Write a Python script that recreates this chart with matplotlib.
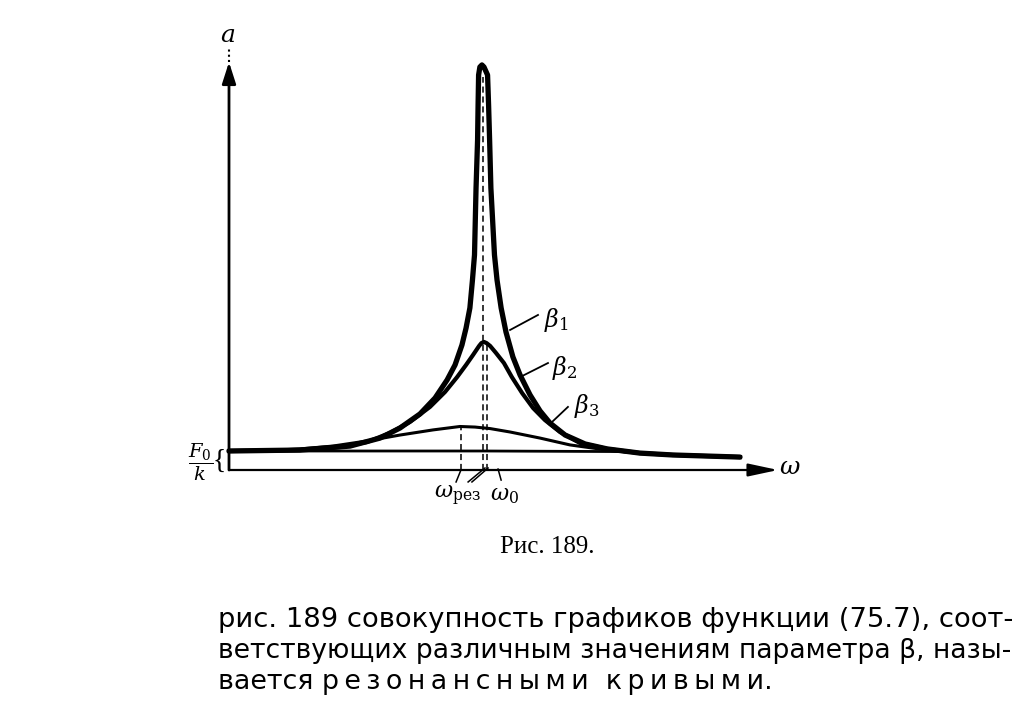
import numpy as np
import matplotlib
matplotlib.use("Agg")
import matplotlib.pyplot as plt

# Резонансные кривые (рис. 189)
# omega в единицах omega_0, a в единицах F0/k

beta1_w = [0.0, 0.277, 0.473, 0.590, 0.668, 0.746, 0.805, 0.852, 0.883, 0.910,
           0.926, 0.941, 0.951, 0.959, 0.965, 0.971, 0.973, 0.975, 0.980, 0.988,
           0.996, 1.010, 1.014, 1.018, 1.023, 1.037, 1.047, 1.063, 1.082, 1.109,
           1.137, 1.176, 1.215, 1.254, 1.313, 1.391, 1.477, 1.605, 1.734, 1.996]
beta1_a = [1.00, 1.05, 1.26, 1.68, 2.21, 2.95, 3.79, 4.74, 5.53, 6.58,
           7.47, 8.53, 10.0, 11.32, 14.84, 17.37, 19.21, 20.79, 21.21, 21.32,
           21.21, 20.79, 19.21, 17.37, 14.84, 11.32, 10.0, 8.53, 7.26, 5.95,
           5.00, 3.95, 3.11, 2.47, 1.84, 1.37, 1.11, 0.89, 0.79, 0.68]

beta2_w = [0.0, 0.277, 0.434, 0.539, 0.629, 0.707, 0.785, 0.844, 0.891, 0.926,
           0.953, 0.977, 0.986, 0.996, 1.006, 1.020, 1.043, 1.074, 1.105, 1.145,
           1.188, 1.234, 1.293, 1.371, 1.477, 1.605, 1.734, 1.996]
beta2_a = [1.00, 1.05, 1.21, 1.47, 1.95, 2.53, 3.32, 4.11, 4.89, 5.53,
           6.05, 6.53, 6.68, 6.74, 6.68, 6.53, 6.16, 5.63, 4.89, 4.05,
           3.26, 2.63, 2.00, 1.42, 1.11, 0.89, 0.79, 0.68]

beta3_w = [0.0, 0.160, 0.277, 0.406, 0.539, 0.668, 0.797, 0.902, 0.961, 1.020,
           1.098, 1.215, 1.332, 1.477, 1.605, 1.734, 1.996]
beta3_a = [1.00, 1.03, 1.11, 1.26, 1.53, 1.84, 2.11, 2.29, 2.26, 2.18,
           2.00, 1.68, 1.32, 1.05, 0.89, 0.79, 0.68]

flat_w = [0.0, 1.0, 1.527, 1.605]
flat_a = [1.00, 1.00, 0.97, 0.89]

w_res = 0.906      # omega_рез для beta3
w_res1 = 0.992     # пунктир к вершине beta1
w_0 = 1.008        # пунктир к вершине beta2

caption = "Рис. 189."
sp = "\u2009"
body_lines = [
    "рис. 189 совокупность графиков функции (75.7), соот-",
    "ветствующих различным значениям параметра β, назы-",
    "вается " + sp.join("резонансными") + "  " + sp.join("кривыми") + ".",
]
body_sizes = [19.7, 19.2, 19.4]

plt.rcParams['mathtext.fontset'] = 'dejavuserif'

fig = plt.figure(figsize=(10.36, 7.22), dpi=100)
ax = fig.add_axes([0, 0, 1, 1])
# масштаб: 256 px на omega_0, 19 px на F0/k, начало в (229, 470) px
ax.set_xlim(-229 / 256, (1036 - 229) / 256)
ax.set_ylim((470 - 722) / 19, 470 / 19)
ax.axis('off')

# оси
ax.annotate('', xy=(2.145, 0), xytext=(0, 0),
            arrowprops=dict(arrowstyle='-|>,head_length=1.4,head_width=0.3',
                            lw=1.6, color='k', mutation_scale=13,
                            shrinkA=0, shrinkB=0))
ax.annotate('', xy=(0, 21.47), xytext=(0, 0),
            arrowprops=dict(arrowstyle='-|>,head_length=1.0,head_width=0.32',
                            lw=2.0, color='k', mutation_scale=13,
                            shrinkA=0, shrinkB=0))
ax.plot([0, 0], [21.47, 22.2], color='k', lw=1.5, ls=(0, (1, 1.5)))

# кривые
ax.plot(flat_w, flat_a, color='k', lw=2.0, solid_capstyle='butt')
ax.plot(beta3_w, beta3_a, color='k', lw=2.2)
ax.plot(beta2_w, beta2_a, color='k', lw=3.0, solid_joinstyle='round')
ax.plot(beta1_w, beta1_a, color='k', lw=3.8, solid_joinstyle='round',
        solid_capstyle='round')

# пунктиры
dash = (0, (4, 2.5))
ax.plot([w_res, w_res], [0, 2.25], color='k', lw=1.1, ls=dash)
ax.plot([w_res1, w_res1], [0, 20.7], color='k', lw=1.1, ls=dash)
ax.plot([w_0, w_0], [0, 6.6], color='k', lw=1.1, ls=dash)

# выноски под осью
ax.plot([0.906, 0.887], [0, -0.63], color='k', lw=1.1)
ax.plot([0.934, 1.0], [-0.63, 0.105], color='k', lw=1.1)
ax.plot([0.949, 1.012], [-0.63, 0.105], color='k', lw=1.1)
ax.plot([1.051, 1.063], [0.05, -0.53], color='k', lw=1.1)

ax.text(0.891, -1.35, r'$\omega_{\mathrm{рез}}$', fontsize=16,
        ha='center', va='center')
ax.text(1.078, -1.35, r'$\omega_0$', fontsize=16, ha='center', va='center')

# выноски к кривым
for (x0, y0, x1, y1, xt, yt, s) in [
        (1.098, 7.37, 1.207, 8.16, 1.277, 7.89, r'$\beta_1$'),
        (1.137, 4.89, 1.246, 5.63, 1.313, 5.37, r'$\beta_2$'),
        (1.262, 2.53, 1.324, 3.32, 1.398, 3.37, r'$\beta_3$')]:
    ax.plot([x0, x1], [y0, y1], color='k', lw=1.3)
    ax.text(xt, yt, s, fontsize=17, ha='center', va='center')

# подписи осей
ax.text(-0.004, 22.9, r'$a$', fontsize=18, ha='center', va='center')
ax.text(2.191, 0.16, r'$\omega$', fontsize=18, ha='center', va='center')
ax.text(-0.113, 0.42, r'$\dfrac{F_0}{k}$', fontsize=14, ha='center', va='center')
ax.text(-0.039, 0.47, '{', fontsize=20, ha='center', va='center',
        family='Liberation Serif')

# подпись и текст
fig.text(547 / 1036, 1 - 547 / 722, caption, fontsize=18, ha='center',
         va='center', family='Liberation Serif')
for i, line in enumerate(body_lines):
    fig.text(218 / 1036, 1 - (620 + 31 * i) / 722, line, fontsize=body_sizes[i],
             ha='left', va='center', family=['DejaVu Sans'])

fig.savefig('out.png', dpi=100, facecolor='white')
